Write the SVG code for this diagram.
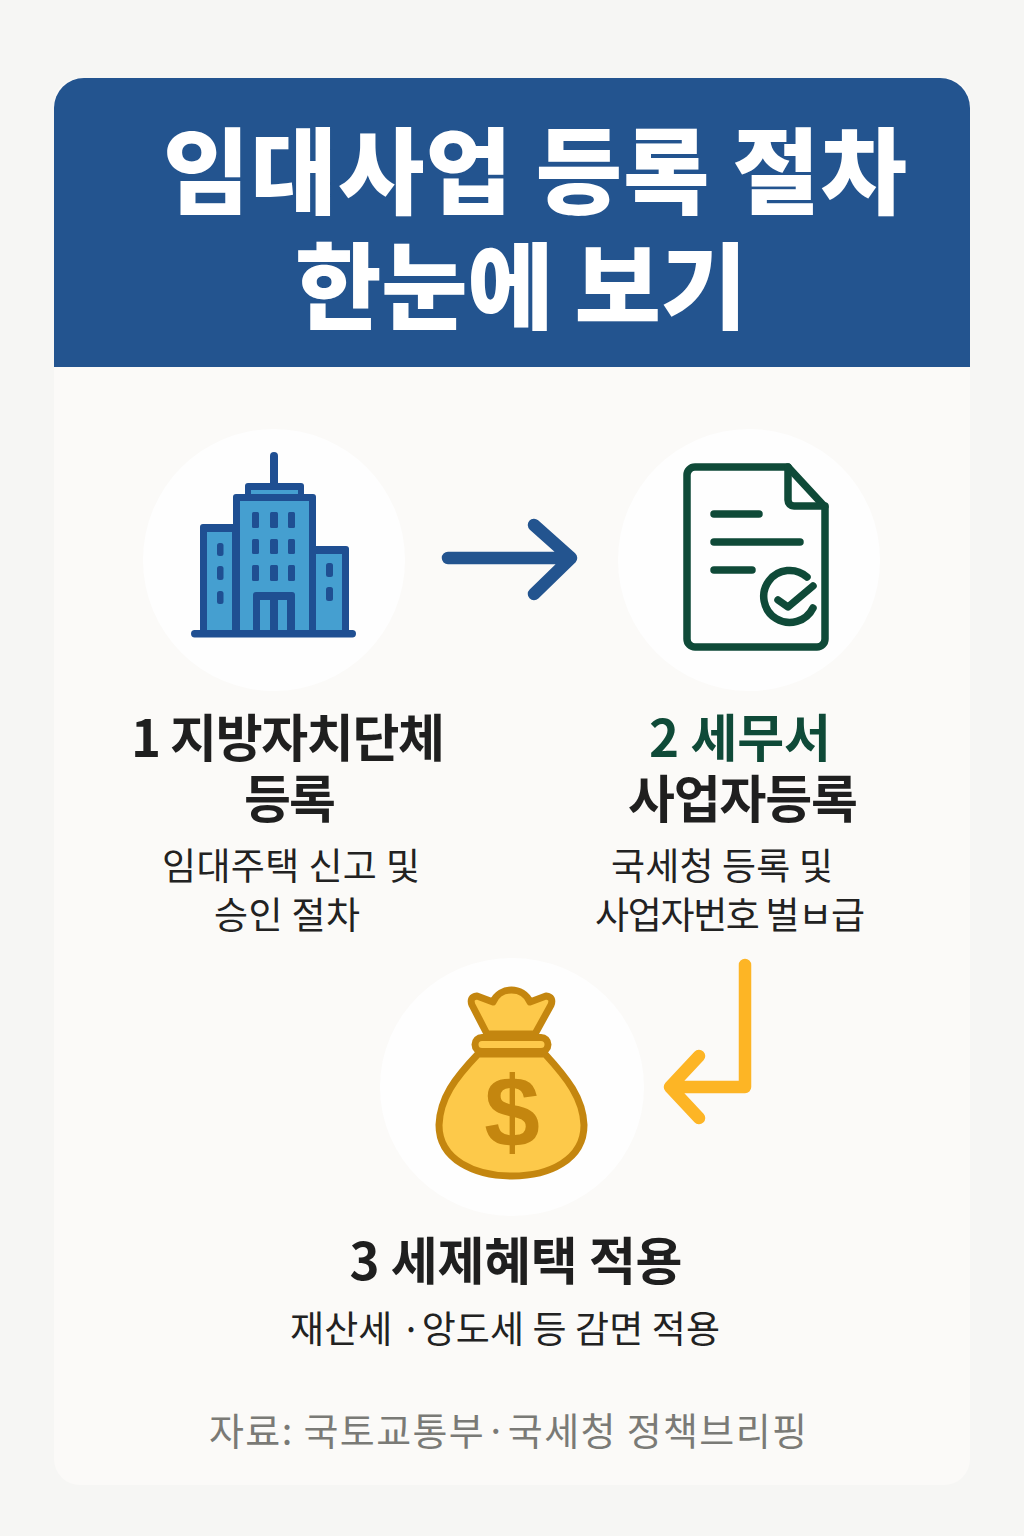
<svg xmlns="http://www.w3.org/2000/svg" width="1024" height="1536" viewBox="0 0 1024 1536">
<defs><style>
text{font-family:"Noto Sans CJK KR","Noto Sans",sans-serif;text-anchor:middle}
.t{font-size:94px;font-weight:900;fill:#fff}
.h{font-size:51px;font-weight:700;fill:#1f1f1f}
.g{fill:#0f4a38}
.s{font-size:37px;font-weight:400;fill:#222}
.f{font-size:38px;font-weight:400;fill:#7a7a76}
.d{font-family:"Liberation Sans",sans-serif;font-size:100px;font-weight:700;fill:#c4860f}
.c{fill:#fefefe}
.bd{fill:#1f4f92}.bl{fill:#459fd0}
.doc{fill:none;stroke:#0f4a38;stroke-width:7.5;stroke-linecap:round;stroke-linejoin:round}
.bag{fill:#fdc94a;stroke:#c4860f;stroke-width:7;stroke-linejoin:round}
.ar{fill:none;stroke-width:12.5;stroke-linecap:round;stroke-linejoin:round}
</style></defs>
<rect width="1024" height="1536" fill="#f6f6f4"/>
<rect x="54" y="78" width="916" height="1407" rx="26" fill="#fbfaf8"/>
<g id="header">
<path d="M54 367V108a30 30 0 0 1 30-30H940a30 30 0 0 1 30 30V367Z" fill="#23548f"/>
<text class="t" x="535" y="207" textLength="744" lengthAdjust="spacing">임대사업 등록 절차</text>
<text class="t" x="521" y="322" textLength="452" lengthAdjust="spacing">한눈에 보기</text>
</g>
<g id="node1">
<circle class="c" cx="274" cy="560" r="131"/>
<rect class="bd" x="270" y="452" width="8" height="36" rx="4"/>
<rect class="bd" x="245" y="483" width="59" height="14" rx="3"/>
<rect class="bl" x="251" y="490" width="47" height="4"/>
<rect class="bd" x="233" y="494" width="83" height="140" rx="3"/>
<rect class="bd" x="200" y="524" width="36" height="110" rx="3"/>
<rect class="bd" x="312" y="546" width="37" height="88" rx="3"/>
<rect class="bl" x="240" y="501" width="69" height="129"/>
<rect class="bl" x="207" y="532" width="25" height="98"/>
<rect class="bl" x="316" y="554" width="26" height="76"/>
<g class="bd">
<rect x="252" y="512" width="7" height="16" rx="1.5"/><rect x="270" y="512" width="8" height="16" rx="1.5"/><rect x="288" y="512" width="7" height="16" rx="1.5"/>
<rect x="252" y="539" width="7" height="15" rx="1.5"/><rect x="270" y="539" width="8" height="15" rx="1.5"/><rect x="288" y="539" width="7" height="15" rx="1.5"/>
<rect x="252" y="565" width="7" height="16" rx="1.5"/><rect x="270" y="565" width="8" height="16" rx="1.5"/><rect x="288" y="565" width="7" height="16" rx="1.5"/>
<rect x="217" y="543" width="6.5" height="13" rx="2.5"/><rect x="217" y="566" width="6.5" height="14" rx="2.5"/><rect x="217" y="591" width="6.5" height="13" rx="2.5"/>
<rect x="326" y="563" width="7" height="14" rx="2.5"/><rect x="326" y="587" width="7" height="14" rx="2.5"/>
<rect x="253" y="592" width="42" height="40" rx="3"/>
</g>
<rect class="bl" x="260" y="600" width="10" height="30"/>
<rect class="bl" x="278" y="600" width="9" height="30"/>
<rect class="bd" x="191" y="630" width="165" height="7.5" rx="3.7"/>
<text class="h" x="288" y="757" textLength="314" lengthAdjust="spacing">1 지방자치단체</text>
<text class="h" x="290" y="818" textLength="92" lengthAdjust="spacing">등록</text>
<text class="s" x="291" y="880" textLength="258" lengthAdjust="spacing">임대주택 신고 및</text>
<text class="s" x="287" y="929" textLength="146" lengthAdjust="spacing">승인 절차</text>
</g>
<g id="node2">
<circle class="c" cx="749" cy="560" r="131"/>
<path class="doc" d="M695 467H788L825 507V639a8 8 0 0 1-8 8H695a8 8 0 0 1-8-8V475a8 8 0 0 1 8-8Z"/>
<path class="doc" d="M788 467V500a6 6 0 0 0 6 6H825"/>
<path class="doc" d="M714 514H759M714 542H800M714 570H752"/>
<path class="doc" d="M807 577A26 26 0 1 0 813 608"/>
<path class="doc" d="M778 600L788 607L813 586"/>
<text class="h g" x="740" y="757" style="fill:#0f4a38" textLength="182" lengthAdjust="spacing">2 세무서</text>
<text class="h" x="743" y="818" textLength="230" lengthAdjust="spacing">사업자등록</text>
<text class="s" x="722" y="880" textLength="222" lengthAdjust="spacing">국세청 등록 및</text>
<text class="s" x="730" y="929" textLength="270" lengthAdjust="spacing">사업자번호 벌ㅂ급</text>
</g>
<g id="node3">
<ellipse class="c" cx="512" cy="1087" rx="132" ry="129"/>
<path class="bag" d="M478 1054C455 1078 440 1098 439 1125C439 1160 475 1176 512 1176C549 1176 584 1160 584 1125C583 1098 567 1078 545 1054Z"/>
<path class="bag" d="M487 1034L472 1005Q469 997 477 996L493 1002C500 986 523 986 530 1002L546 996Q554 997 551 1005L535 1034Z"/>
<rect class="bag" x="475" y="1037.5" width="73" height="14" rx="7"/>
<text class="d" x="512" y="1147">$</text>
<text class="h" x="516" y="1280" textLength="333" lengthAdjust="spacing">3 세제혜택 적용</text>
<text class="s" x="505" y="1343" textLength="430" lengthAdjust="spacing">재산세 ·앙도세 등 감면 적용</text>
</g>
<g id="connectors">
<path class="ar" stroke="#23548f" d="M448 558H570M534 525L571 558L534 594"/>
<path class="ar" stroke="#fdb525" d="M745 965V1087H672M699 1056L670 1087L699 1118"/>
</g>
<text class="f" x="508" y="1445" textLength="598" lengthAdjust="spacing">자료: 국토교통부·국세청 정책브리핑</text>
</svg>
